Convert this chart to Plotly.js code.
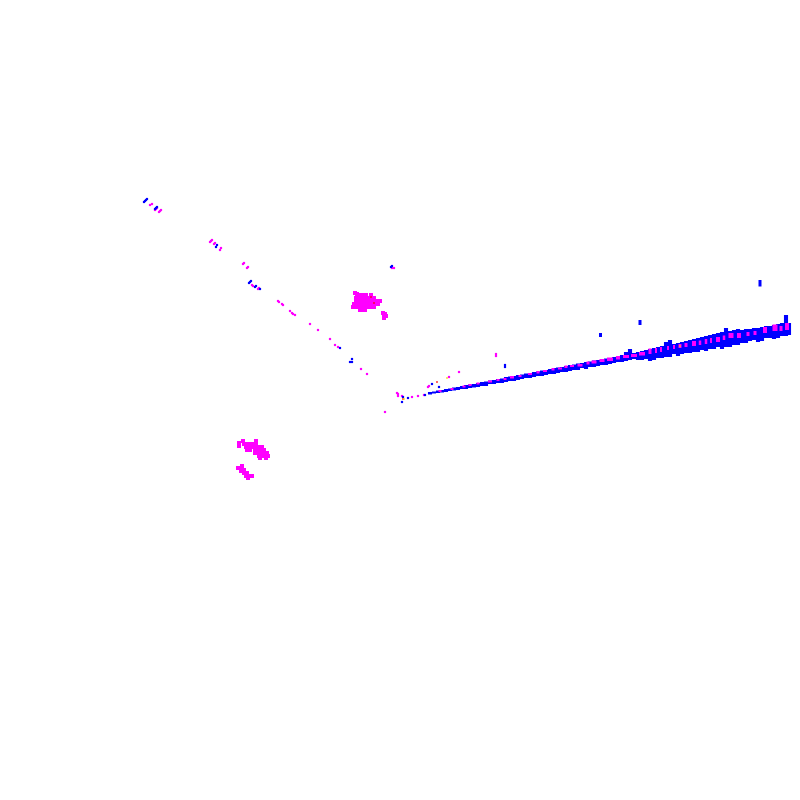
<!DOCTYPE html>
<html>
<head>
<meta charset="utf-8">
<script src="https://cdn.plot.ly/plotly-3.0.1.min.js"></script>
<style>html,body{margin:0;padding:0;background:#fff}</style>
</head>
<body>
<div id="plot" style="width:800px;height:800px"></div>
<script>
// main streak, blue columns
var bandX = [430,434,438,442,446,450,454,458,462,466,470,474,478,482,486,490,494,498,502,506,510,514,518,522,526,530,534,538,542,546,550,554,558,562,566,570,574,578,582,586,590,594,598,602,606,610,614,618,622,626,630,634,638,642,646,650,654,658,662,666,670,674,678,682,686,690,694,698,702,706,710,714,718,722,726,730,734,738,742,746,750,754,758,762,766,770,774,778,782,786,789];
var bandTop = [392,391.5,390.5,390,389,388.5,387.5,387,386,385,384.5,384,383,382,381.5,380.5,380,379,378.5,377,376.5,376,375,374.5,373.5,373,372,371.5,370.5,370,369,368,367.5,367,366,365,364.5,363.5,363,362,361.5,360.5,360,359,358.5,358,357,356,355,352,349,353,352,351,350,349,348,347,346,342,340,344,343,342,341,340,339,338,337,336,335,334,333,332,328,331,330,329,330,329,329,328,328,327,326,326,325,324,323,315,323];
var bandBot = [394.5,393.5,393,392.5,392,391,390.5,390,389,389,388,387.5,387,386,386,384,384,383,383,382,381,381,380,379,378,378,377,376,376,375,374,374,373,372,372,371,370,370,368,369,367,367,366,365,365,364,363,362,362,361,360,359,360,360,359,361,360,358,358,357,357,354,356,354,353,353,352,352,350,351,349,349,347,349,347,347,345,345,343,343,341,340,342,341,338,338,339,338,336,336,335];

// magenta stripes over the top of the streak
var stripeX = [440,452,464,470,478,490,498,505,512,520,530,538,545,553,560,566,572,580,588,594,602,610,618,626,634,642,650,656,661,668,674,680,686,694,700,706,711,718,724,731,739,748,755,765,775,781,787];
var stripeTop = [390,388,385.5,384,382.5,380.5,379,378,376,375,373,371,370,368,367.5,365.5,365,364,361.5,360.5,359,357.5,356,355,354,352,348.5,348,347,346,345,344,343,341,340.5,339,338,337,335.5,333,333,332,331,327,324.5,326,323];
var stripeBot = [392,390,387.5,386,384.5,382.5,381,380,378.5,377,375,373.5,372,370.5,369.5,368,367,366.5,364.5,363.5,362,361,359.5,358,357,355.5,354,353,352,350,349,348,347,346,345,344,343,342,340,338,338,336,335,333,331,331,330];
var stripeW = [3,3,3,3,3,4,3,3,4,3,4,3,4,3,4,3,4,5,3,5,5,6,4,6,6,6,3,2,2,2,2,3,3,4,2.5,2.5,2,4,2.5,5,4,3,3,4,5,3,4];

// isolated blue blocks
var blockX = [600.5,640,760];
var blockTop = [333,320,280];
var blockBot = [337,325,286.5];

// diagonal arm, fine dots
var armBlueX = [144,145,146,147,155,156,157,216,217,249,250,251,255,256,260,340,352,350,352,391,392,403,402,408,425,432,439,505,505];
var armBlueY = [202,201,200,199,209,208,207,247,245,283,282,281,287,286,289,348,359,362,362,267,266,397,402,398,395,384,387,365,367];
var armMagX = [150,152,155,156,157,159,160,161,210,211,212,214,215,220,221,243,244,247,248,252,253,258,259,278,279,282,283,290,292,293,295,310,318,330,335,338,361,367,392,394,397,398,398,402,412,418,424,428,429,385,449,459,496,496];
var armMagY = [205,204,210,209,208,212,211,210,242,241,240,244,243,250,248,264,263,268,267,285,286,289,288,301,302,304,305,311,313,314,315,324,330,339,345,347,369,374,268,268,393,394,396,396,397,396,395,387,386,412,377,372,354,356];

// magenta clusters
var blobX = [360,363,366,371,356,359,362,365,368,371,374,356,359,362,365,368,371,374,377,380,354,357,360,363,366,369,372,375,378,353,356,359,362,366,369,372,374,360,363,365,355,357,383,385,386,384,384,239,239,243,256,244,247,250,253,256,246,249,252,255,258,262,247,250,255,258,261,264,255,258,261,264,267,259,262,265,268,260,266,238,240,242,241,244,244,247,246,249,252,248];
var blobY = [295,295,295,295,298,298,298,298,298,298,298,301,301,301,301,301,301,301,301,301,304,304,304,304,304,304,304,304,304,307,307,307,307,307,307,307,307,310,310,310,293,294,313,314,316,316,318,443,446,441,441,444,444,444,444,444,447,447,447,447,447,447,450,450,450,450,450,450,453,453,453,453,453,456,456,456,456,458,458,468,468,466,471,470,473,473,476,476,476,478];

// odd coloured specks
var redX = [371,374,403,437];
var redY = [297,303,399,382];
var yellowX = [404,447,680];
var yellowY = [399,378,346];

var blue = "#0000ff";
var magenta = "#ff00ff";

function dots(x, y, color, size){
    return {
        type: "scatter",
        mode: "markers",
        x: x,
        y: y,
        hoverinfo: "skip",
        marker: {symbol: "square", color: color, size: size, line: {width: 0}}
    };
}

function columns(x, top, bot, color, width){
    return {
        type: "bar",
        x: x,
        base: top,
        y: bot.map(function(b, i){ return b - top[i]; }),
        width: width,
        hoverinfo: "skip",
        marker: {color: color, line: {width: 0}}
    };
}

var traces = [
    columns(bandX, bandTop, bandBot, blue, 4.1),
    columns(stripeX, stripeTop, stripeBot, magenta, stripeW),
    columns(blockX, blockTop, blockBot, blue, 3),
    dots(blobX, blobY, magenta, 4),
    dots(armMagX, armMagY, magenta, 2.2),
    dots(armBlueX, armBlueY, blue, 2.2),
    dots(redX, redY, "#ff0000", 1.6),
    dots(yellowX, yellowY, "#ffd000", 1.6)
];

var layout = {
    width: 800,
    height: 800,
    paper_bgcolor: "#ffffff",
    plot_bgcolor: "#ffffff",
    showlegend: false,
    barmode: "overlay",
    margin: {l: 0, r: 0, t: 0, b: 0},
    xaxis: {range: [0, 800], visible: false, fixedrange: true},
    yaxis: {range: [800, 0], visible: false, fixedrange: true}
};

Plotly.newPlot("plot", traces, layout, {displayModeBar: false, staticPlot: true});
</script>
</body>
</html>
